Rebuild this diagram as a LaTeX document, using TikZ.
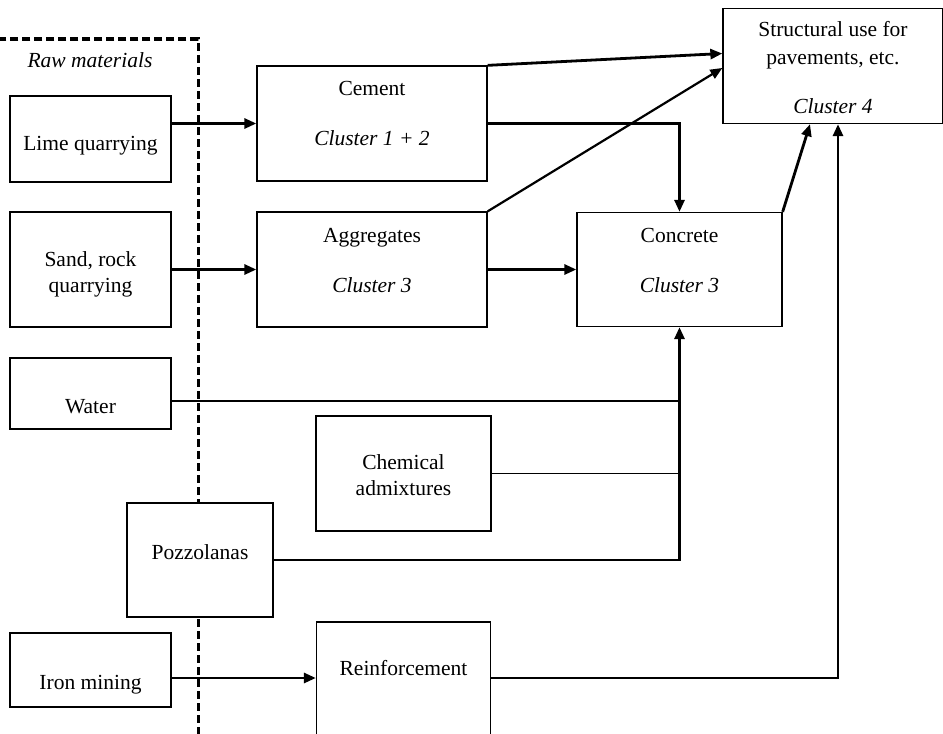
\documentclass[tikz,border=0pt]{standalone}
\usepackage{fontspec}
\setmainfont{Liberation Serif}
\usetikzlibrary{arrows.meta, positioning, calc}

\begin{document}
\begin{tikzpicture}[%
    >={Triangle[length=12pt, width=10pt]}, % filled heads
    node distance=20mm and 40mm,           % most distances are given per node
    ]

\tikzset{
  base/.style={on grid, align=center, inner sep=0pt, font=\fontsize{21.5}{26}\selectfont},
  proc/.style={base, draw, fill=white, line width=1.3pt},
  size/.style 2 args={minimum width=#1, minimum height=#2},
  lift/.style 2 args={text height=#1, text depth=#2}, % moves the text inside its box
  flow/.style={->, line width=2.8pt},
  feed/.style={line width=2.8pt},
  rawbox/.style={draw, line width=3.5pt, dash pattern=on 8pt off 4pt, inner sep=0pt}
  };

\useasboundingbox (0,0) rectangle (943pt,-734pt);

% RAW MATERIALS
\node[rawbox, anchor=north east, size={215pt}{697pt}] (raw) at (200pt,-37pt) {};
\node[base, font=\fontsize{21.5}{26}\selectfont\itshape] (rawTitle)
    at ($(raw.north east)+(-110pt,-23pt)$) {Raw materials};

\node[proc, size={161pt}{86pt}, lift={22pt}{0pt}] (lime) at (90.5pt,-139pt) {Lime quarrying};
\node[proc, below=130.5pt of lime, size={161pt}{115pt}, lift={45pt}{0pt}] (sand) {Sand, rock\\quarrying};
\node[proc, below=124pt of sand, size={161pt}{71pt}, lift={39pt}{0pt}] (water) {Water};
\node[proc, below=276.5pt of water, size={161pt}{74pt}, lift={38pt}{0pt}] (iron) {Iron mining};
\node[proc, below right=166.5pt and 109.5pt of water, size={146pt}{114pt}, lift={0pt}{2pt}]
    (pozzolanas) {Pozzolanas};

% PRODUCTS
\node[proc, above right=15.5pt and 281.5pt of lime, size={230pt}{115pt}, lift={43pt}{0pt}]
    (cement) {Cement\\[24pt]\textit{Cluster 1 + 2}};
\node[proc, below=146pt of cement, size={230pt}{115pt}, lift={45pt}{0pt}]
    (aggregates) {Aggregates\\[24pt]\textit{Cluster 3}};
\node[proc, right=307.5pt of aggregates, size={205pt}{114pt}, lift={46pt}{0pt}]
    (concrete) {Concrete\\[24pt]\textit{Cluster 3}};
\node[proc, above right=203.5pt and 153.5pt of concrete, size={220pt}{115pt}, lift={95pt}{0pt}]
    (structural) {Structural use for\\[2pt]pavements, etc.\\[23pt]\textit{Cluster 4}};
\node[proc, below right=204pt and 31.5pt of aggregates, size={175pt}{115pt}, lift={43pt}{0pt}]
    (chemical) {Chemical\\admixtures};
\node[proc, below=213.5pt of chemical, size={174pt}{130pt}, lift={0pt}{24pt}]
    (reinforcement) {Reinforcement};

% Flows
\draw[flow] (lime.east |- cement.west) -- (cement.west);
\draw[flow] (sand.east |- aggregates.west) -- (aggregates.west);
\draw[flow] (cement.east) -| (concrete.north);
\draw[flow] (aggregates.east) -- (aggregates.east -| concrete.west);

\draw[flow] (cement.north east) -- ($(structural.west)+(0,12.5pt)$);
\draw[flow, line width=2.2pt] (aggregates.north east) -- ($(structural.west)+(0,-2pt)$);
\draw[flow] (concrete.north east) -- ($(structural.south)+(-23pt,0)$);

% into concrete from below
\coordinate (waterOut) at ($(water.east)+(0,-7.5pt)$);
\draw[feed] (waterOut) -- (waterOut -| concrete.south);
\draw[line width=1.2pt] (chemical.east) -- (chemical.east -| concrete.south);
\draw[flow] (pozzolanas.east) -| (concrete.south);

% reinforcement
\coordinate (ironIn) at ($(reinforcement.west)+(0,9pt)$);
\draw[flow] (iron.east |- ironIn) -- (ironIn);
\draw[flow] ($(reinforcement.east)+(0,9pt)$) -| ($(structural.south)+(5pt,0)$);

\end{tikzpicture}
\end{document}
